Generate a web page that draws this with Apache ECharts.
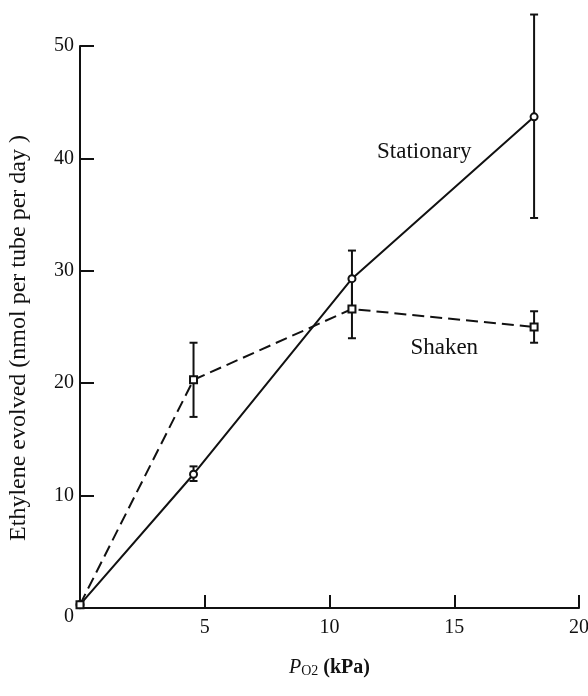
<!DOCTYPE html>
<html>
<head>
<meta charset="utf-8">
<script src="https://cdn.jsdelivr.net/npm/echarts@6/dist/echarts.min.js"></script>
<style>
  html, body { margin: 0; padding: 0; background: #fff; }
  #chart { width: 588px; height: 696px; }
</style>
</head>
<body>
<div id="chart"></div>
<script>
// O2 partial pressure (kPa)
var po2 = [0, 4.55, 10.9, 18.2];

// ethylene evolved, nmol per tube per day
var stationary = [0.3, 11.9, 29.3, 43.7];
var stationaryLow = [null, 11.3, 26.8, 34.7];
var stationaryHigh = [null, 12.6, 31.8, 52.8];

var shaken = [0.3, 20.3, 26.6, 25.0];
var shakenLow = [null, 17.0, 24.0, 23.6];
var shakenHigh = [null, 23.6, 29.2, 26.4];

var yTicks = [0, 10, 20, 30, 40, 50];
var xTicks = [0, 5, 10, 15, 20];

var serif = "Liberation Serif";

function pairs (xs, ys) {
  var out = [];
  for (var i = 0; i < xs.length; i++) {
    out.push([xs[i], ys[i]]);
  }
  return out;
}

function errRows (xs, lo, hi) {
  var out = [];
  for (var i = 0; i < xs.length; i++) {
    if (lo[i] == null) continue;
    out.push([xs[i], lo[i], hi[i]]);
  }
  return out;
}

function errorBar (params, api) {
  var top = api.coord([api.value(0), api.value(2)]);
  var bottom = api.coord([api.value(0), api.value(1)]);
  var half = 4;
  var style = { stroke: "#111", lineWidth: 2 };
  return {
    type: "group",
    children: [
      { type: "line", shape: { x1: top[0], y1: top[1], x2: bottom[0], y2: bottom[1] }, style: style },
      { type: "line", shape: { x1: top[0] - half, y1: top[1], x2: top[0] + half, y2: top[1] }, style: style },
      { type: "line", shape: { x1: bottom[0] - half, y1: bottom[1], x2: bottom[0] + half, y2: bottom[1] }, style: style }
    ]
  };
}

var myChart = echarts.init(document.getElementById("chart"));

var option = {
  animation: false,
  backgroundColor: "#fff",
  grid: { left: 80, right: 9, top: 46, bottom: 88, containLabel: false, outerBoundsMode: "none" },
  xAxis: {
    type: "value",
    min: xTicks[0],
    max: xTicks[xTicks.length - 1],
    interval: 5,
    name: "{i|P}{s|O2}{t| (kPa)}",
    nameLocation: "middle",
    nameGap: 48,
    nameTextStyle: {
      rich: {
        i: { fontFamily: serif, fontStyle: "italic", fontSize: 20, color: "#111", lineHeight: 22, verticalAlign: "bottom" },
        s: { fontFamily: serif, fontSize: 14, color: "#111", lineHeight: 12, verticalAlign: "bottom" },
        t: { fontFamily: serif, fontSize: 20, fontWeight: "bold", color: "#111", lineHeight: 22, verticalAlign: "bottom" }
      }
    },
    axisLine: { show: true, onZero: false, lineStyle: { color: "#111", width: 2 } },
    axisTick: { show: true, inside: true, length: 13, lineStyle: { color: "#111", width: 2 } },
    axisLabel: {
      showMinLabel: false,
      margin: 10,
      color: "#111",
      fontFamily: serif,
      fontSize: 20
    },
    splitLine: { show: false }
  },
  yAxis: {
    type: "value",
    min: yTicks[0],
    max: yTicks[yTicks.length - 1],
    interval: 10,
    name: "Ethylene evolved (nmol per tube per day )",
    nameLocation: "middle",
    nameRotate: 90,
    nameGap: 49,
    nameTextStyle: { fontFamily: serif, fontSize: 24, color: "#111", padding: [0, 22, 0, 0] },
    axisLine: { show: true, onZero: false, lineStyle: { color: "#111", width: 2 } },
    axisTick: { show: true, inside: true, length: 14, lineStyle: { color: "#111", width: 2 } },
    axisLabel: {
      margin: 6,
      color: "#111",
      fontFamily: serif,
      fontSize: 20,
      formatter: function (v) {
        // the shared origin label sits a little below the corner
        return v == 0 ? "{z|0}" : String(v);
      },
      rich: {
        z: { fontFamily: serif, fontSize: 20, color: "#111", padding: [18, 0, 0, 0] }
      }
    },
    splitLine: { show: false }
  },
  series: [
    {
      name: "Stationary",
      type: "line",
      data: pairs(po2, stationary),
      symbol: "emptyCircle",
      symbolSize: 7,
      showSymbol: true,
      z: 3,
      itemStyle: { color: "#111", borderWidth: 2 },
      lineStyle: { color: "#111", width: 2, type: "solid" },
      markPoint: {
        symbol: "circle",
        symbolSize: 0,
        data: [{
          coord: [13.8, 40.6],
          label: { show: true, formatter: "Stationary", fontFamily: serif, fontSize: 23, color: "#111" }
        }]
      }
    },
    {
      name: "Shaken",
      type: "line",
      data: pairs(po2, shaken),
      symbol: "emptyRect",
      symbolSize: 7,
      showSymbol: true,
      z: 3,
      itemStyle: { color: "#111", borderWidth: 2 },
      lineStyle: { color: "#111", width: 2, type: [12, 6] },
      markPoint: {
        symbol: "circle",
        symbolSize: 0,
        data: [{
          coord: [14.6, 23.1],
          label: { show: true, formatter: "Shaken", fontFamily: serif, fontSize: 23, color: "#111" }
        }]
      }
    },
    {
      type: "custom",
      name: "Stationary error",
      clip: false,
      z: 2,
      renderItem: errorBar,
      data: errRows(po2, stationaryLow, stationaryHigh)
    },
    {
      type: "custom",
      name: "Shaken error",
      clip: false,
      z: 2,
      renderItem: errorBar,
      data: errRows(po2, shakenLow, shakenHigh)
    }
  ]
};

myChart.setOption(option);
</script>
</body>
</html>
